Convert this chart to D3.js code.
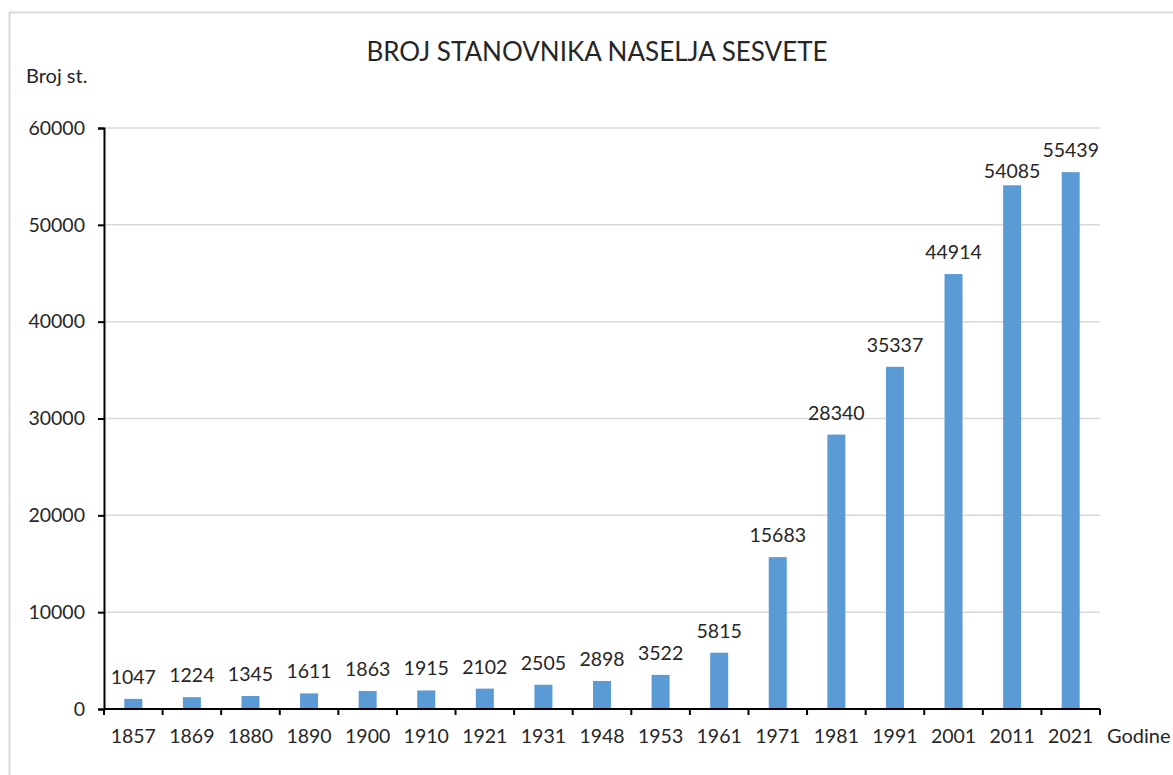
<!DOCTYPE html>
<html>
<head>
<meta charset="utf-8">
<script src="https://cdn.jsdelivr.net/npm/d3@7"></script>
<style>
  html, body { margin: 0; padding: 0; background: #fff; }
  svg { display: block; }
  text { font-family: Lato, "Open Sans", sans-serif; fill: #262626; }
</style>
</head>
<body>
<svg id="chart" width="1173" height="775"></svg>
<script>
const categories = ["1857","1869","1880","1890","1900","1910","1921","1931","1948","1953","1961","1971","1981","1991","2001","2011","2021"];
const population = [1047,1224,1345,1611,1863,1915,2102,2505,2898,3522,5815,15683,28340,35337,44914,54085,55439];
const yTicks = [0,10000,20000,30000,40000,50000,60000];
const titleText = "BROJ STANOVNIKA NASELJA SESVETE";
const yAxisTitle = "Broj st.";
const xAxisTitle = "Godine";

const svg = d3.select("#chart");
const W = 1173, H = 775;
const plot = {left: 104, right: 1100, top: 128, bottom: 709};

// outer chart border
svg.append("rect").attr("x", 9.5).attr("y", 12.5).attr("width", W).attr("height", H)
  .attr("fill", "#fff").attr("stroke", "#d9d9d9").attr("stroke-width", 2);

const x = d3.scaleBand().domain(categories).range([plot.left, plot.right]).paddingInner(0).paddingOuter(0);
const y = d3.scaleLinear().domain([0, 60000]).range([plot.bottom, plot.top]);

// gridlines
svg.append("g").selectAll("line").data(yTicks.filter(d => d > 0)).join("line")
  .attr("x1", plot.left).attr("x2", plot.right)
  .attr("y1", d => y(d)).attr("y2", d => y(d))
  .attr("stroke", "#d9d9d9").attr("stroke-width", 1.5);

// bars
const barW = 18;
svg.append("g").selectAll("rect").data(population).join("rect")
  .attr("x", (d, i) => x(categories[i]) + x.bandwidth() / 2 - barW / 2)
  .attr("y", d => y(d))
  .attr("width", barW)
  .attr("height", d => y(0) - y(d))
  .attr("fill", "#5b9bd5");

// data labels
svg.append("g").selectAll("text").data(population).join("text")
  .attr("x", (d, i) => x(categories[i]) + x.bandwidth() / 2)
  .attr("y", (d, i) => y(d) - (categories[i] === "2011" ? 7 : 15))
  .attr("text-anchor", "middle")
  .attr("font-size", 19.5)
  .text(d => d);

// y axis
const yAxis = d3.axisLeft(y).tickValues(yTicks).tickSize(6).tickPadding(13).tickFormat(d3.format("d"));
const gy = svg.append("g").attr("transform", `translate(${plot.left},0)`).call(yAxis);
gy.select(".domain").attr("stroke", "#000").attr("stroke-width", 2);
gy.selectAll(".tick line").attr("stroke", "#000").attr("stroke-width", 2);
gy.selectAll(".tick text").attr("font-size", 19.5).attr("fill", "#262626")
  .style("font-family", "Lato, 'Open Sans', sans-serif");

// x axis
const gx = svg.append("g").attr("transform", `translate(0,${plot.bottom})`);
gx.append("line").attr("x1", plot.left).attr("x2", plot.right).attr("y1", 0).attr("y2", 0)
  .attr("stroke", "#000").attr("stroke-width", 2);
const boundaries = categories.map(c => x(c)).concat([plot.right]);
gx.selectAll("line.tk").data(boundaries).join("line").attr("class", "tk")
  .attr("x1", d => d).attr("x2", d => d).attr("y1", 0).attr("y2", 6)
  .attr("stroke", "#000").attr("stroke-width", 2);
gx.selectAll("text").data(categories).join("text")
  .attr("x", d => x(d) + x.bandwidth() / 2)
  .attr("y", 34)
  .attr("text-anchor", "middle")
  .attr("font-size", 19.5)
  .text(d => d);

// titles
svg.append("text").attr("x", 597).attr("y", 61).attr("text-anchor", "middle")
  .attr("font-size", 26).attr("fill", "#0d0d0d").text(titleText);
svg.append("text").attr("x", 26).attr("y", 83).attr("font-size", 20).text(yAxisTitle);
svg.append("text").attr("x", 1107).attr("y", 743).attr("font-size", 20).text(xAxisTitle);
</script>
</body>
</html>
